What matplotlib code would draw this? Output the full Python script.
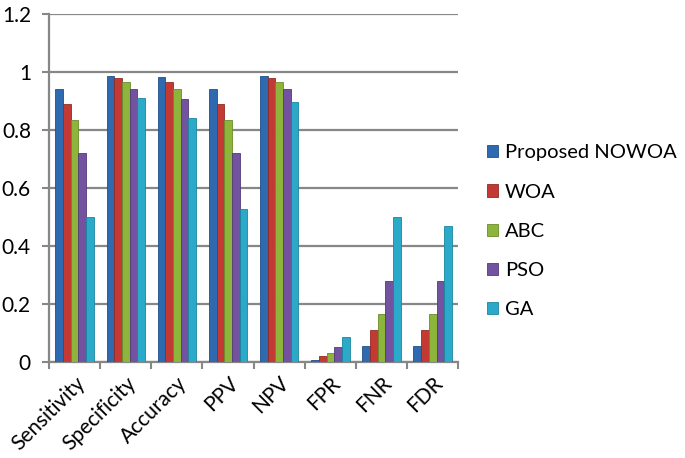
import matplotlib
matplotlib.use("Agg")
import matplotlib.pyplot as plt
import numpy as np

categories = ["Sensitivity", "Specificity", "Accuracy", "PPV", "NPV", "FPR", "FNR", "FDR"]
series_names = ["Proposed NOWOA", "WOA", "ABC", "PSO", "GA"]
nowoa = [0.944, 0.989, 0.983, 0.944, 0.989, 0.008, 0.056, 0.056]
woa   = [0.891, 0.979, 0.966, 0.891, 0.979, 0.021, 0.109, 0.109]
abc   = [0.834, 0.967, 0.944, 0.834, 0.967, 0.030, 0.166, 0.166]
pso   = [0.722, 0.944, 0.908, 0.722, 0.944, 0.051, 0.278, 0.278]
ga    = [0.500, 0.911, 0.842, 0.527, 0.899, 0.085, 0.500, 0.470]
yticks = [0, 0.2, 0.4, 0.6, 0.8, 1, 1.2]
ytick_labels = ["0", "0.2", "0.4", "0.6", "0.8", "1", "1.2"]

colors = ["#2F69B0", "#C23A33", "#8DB53C", "#7352A0", "#2BA9C9"]
edges = ["#1F4F8A", "#922A24", "#6A8C2A", "#533A7A", "#1C85A0"]

plt.rcParams['font.family'] = ['Lato', 'DejaVu Sans']

fig = plt.figure(figsize=(6.85, 4.58), dpi=100)
ax = fig.add_axes([0.0715, 0.2096, 0.5975, 0.759])

x = np.arange(len(categories))
w = 0.15
data = [nowoa, woa, abc, pso, ga]
for i, (vals, name) in enumerate(zip(data, series_names)):
    ax.bar(x + (i - 2) * w, vals, w, color=colors[i], edgecolor=edges[i],
           linewidth=0.6, label=name, zorder=3)

ax.set_xlim(-0.5, len(categories) - 0.5)
ax.set_ylim(0, 1.2)
ax.set_yticks(yticks)
ax.set_yticklabels(ytick_labels, fontsize=15)
ax.yaxis.grid(True, color="#878787", linewidth=1.6, zorder=0)
ax.set_axisbelow(True)

ax.set_xticks(np.arange(len(categories) + 1) - 0.5, minor=False)
ax.set_xticklabels([])
ax.set_xticks(x, minor=True)
ax.set_xticklabels(categories, minor=True, rotation=45, ha="right",
                   rotation_mode="anchor", fontsize=15)
ax.tick_params(axis="x", which="minor", length=0, pad=8)
ax.tick_params(axis="x", which="major", length=5, width=1.5, color="#878787", direction="out")
ax.tick_params(axis="y", length=5, width=1.5, color="#878787", direction="out", pad=8)

for s in ["top", "right"]:
    ax.spines[s].set_visible(False)
for s in ["left", "bottom"]:
    ax.spines[s].set_color("#878787")
    ax.spines[s].set_linewidth(1.6)

leg = ax.legend(loc="center left", bbox_to_anchor=(1.05, 0.376), frameon=False,
                fontsize=14.5, handlelength=0.55, handleheight=0.55, handletextpad=0.35,
                labelspacing=1.1, borderaxespad=0)

fig.savefig("out.png", dpi=100)
